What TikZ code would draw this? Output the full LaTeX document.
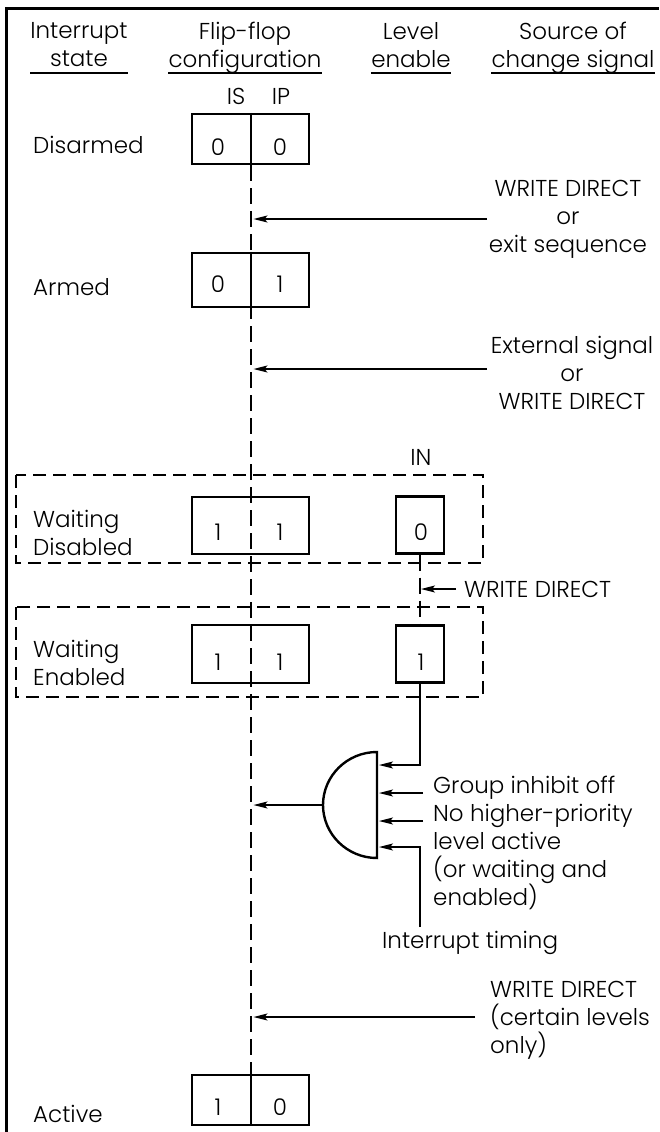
\documentclass[tikz,border=0pt]{standalone}
\usepackage{fontspec}
\setmainfont{Poppins}[UprightFont={* Light}]
\usepackage{tikz}
\usetikzlibrary{arrows.meta}

\begin{document}
\begin{tikzpicture}[x=1pt, y=-1pt, font=\fontsize{23}{28}\selectfont,
  ffbox/.style={draw, line width=2.4pt, minimum width=117pt, minimum height=50pt, inner sep=0pt},
  inbox/.style={draw, line width=2.4pt, minimum width=48pt, minimum height=57pt, inner sep=0pt},
  ffline/.style={line width=2pt},
  bit/.style={anchor=base, inner sep=0pt},
  statelbl/.style={anchor=base west, inner sep=0pt},
  head/.style={anchor=north, align=center, inner sep=0pt},
  uline/.style={line width=1.6pt},
  src/.style={inner sep=0pt},
  sig/.style={line width=1.4pt, -{Stealth[length=14pt, width=7pt, inset=3pt]}},
  flow/.style={line width=2pt, dash pattern=on 16pt off 7pt},
  grp/.style={line width=1.6pt, dash pattern=on 13pt off 7pt}]
\useasboundingbox (0,0) rectangle (659,1132);
\begin{scope}
% frame
\draw[line width=3pt] (6,1132) -- (6,9) -- (659,9);

% column heads
\node[head, minimum width=94pt] (hd-state) at (79,22) {Interrupt\\state};
\node[head, minimum width=147pt] (hd-conf) at (245,22) {Flip-flop\\configuration};
\node[head, minimum width=80pt] (hd-level) at (411,22) {Level\\enable};
\node[head, minimum width=163pt] (hd-src) at (573,22) {Source of\\change signal};
\coordinate (ul) at (0,73);
\foreach \h in {hd-state,hd-conf,hd-level,hd-src}
  \draw[uline] (\h.west |- ul) -- (\h.east |- ul);

% flip-flops
\node[bit] (lb-is) at (236,104) {IS};
\node[bit] (lb-ip) at (281,104) {IP};
\node[ffbox] (ff-dis) at (250.5,139) {};
\node[ffbox, minimum height=54pt] (ff-arm) at (250.5,280) {};
\node[ffbox, minimum height=57pt] (ff-wd) at (250.5,525.5) {};
\node[ffbox, minimum height=58pt] (ff-we) at (250.5,654) {};
\node[ffbox] (ff-act) at (250.5,1100) {};
\draw[flow] (ff-dis.south) -- (ff-act.north);
\foreach \b in {ff-dis,ff-arm,ff-act}
  \draw[ffline] (\b.north) -- (\b.south);

\node[bit] (dis-is) at (218,155) {0};
\node[bit] (dis-ip) at (280,155) {0};
\node[bit] (arm-is) at (218,292) {0};
\node[bit] (arm-ip) at (280,292) {1};
\node[bit] (wd-is) at (218,540) {1};
\node[bit] (wd-ip) at (280,540) {1};
\node[bit] (we-is) at (218,670) {1};
\node[bit] (we-ip) at (280,670) {1};
\node[bit] (act-is) at (218,1115) {1};
\node[bit] (act-ip) at (280,1115) {0};

% level enable
\node[bit] (lb-in) at (421,465) {IN};
\node[inbox] (in-dis) at (420,525) {};
\node[inbox] (in-en) at (420,654) {};
\node[bit] (in-dis-v) at (421,540) {0};
\node[bit] (in-en-v) at (421,670) {1};
\draw[flow] (in-dis.south) -- (in-en.north);

% states
\node[statelbl] (st-dis) at (33,153) {Disarmed};
\node[statelbl] (st-arm) at (33,295) {Armed};
\node[statelbl, align=left, anchor=north west] (st-wd) at (33,510) {Waiting\\Disabled};
\node[statelbl, align=left, anchor=north west] (st-we) at (33,640) {Waiting\\Enabled};
\node[statelbl] (st-act) at (33,1122) {Active};
\draw[grp] (16,475) rectangle (483,563);
\draw[grp] (16,607) rectangle (483,697);

% sources
\node[src, align=center, anchor=north] (src-exit) at (568,180) {WRITE DIRECT\\or\\exit sequence};
\node[src, align=center, anchor=north] (src-ext) at (572,336) {External signal\\or\\WRITE DIRECT};
\node[src, anchor=base west] (src-wd) at (464,597) {WRITE DIRECT};
\node[src, align=left, anchor=north west] (src-gate) at (433,776) {Group inhibit off\\No higher-priority\\level active\\(or waiting and\\enabled)};
\node[src, anchor=base west] (src-tm) at (382,948) {Interrupt timing};
\node[src, align=left, anchor=north west] (src-cert) at (490,981) {WRITE DIRECT\\(certain levels\\only)};

\coordinate (exit-in) at (487,219);
\coordinate (ext-in) at (487,369);
\coordinate (wd-in) at (456,589);
\coordinate (cert-in) at (475,1017);
\draw[sig, shorten >=3pt] (exit-in) -- (exit-in -| ff-dis.south);
\draw[sig, shorten >=3pt] (ext-in) -- (ext-in -| ff-dis.south);
\draw[sig, shorten >=1pt] (wd-in) -- (wd-in -| in-dis.south);
\draw[sig, shorten >=3pt] (cert-in) -- (cert-in -| ff-dis.south);

% gate
\coordinate (g-top) at (377,752);
\coordinate (g-bot) at (377,858);
\coordinate (g-out) at (323,805);
\draw[line width=2.4pt] (g-top) .. controls (347,752) and (323,776) .. (g-out)
  .. controls (323,834) and (347,858) .. (g-bot) -- cycle;
\coordinate (g-in1) at (379,765);
\coordinate (g-in2) at (379,793);
\coordinate (g-in3) at (379,821);
\coordinate (g-in4) at (379,847);
\coordinate (tm-foot) at (420,927);
\draw[sig] (in-en.south) |- (g-in1);
\draw[sig] (423,793) -- (g-in2);
\draw[sig] (423,821) -- (g-in3);
\draw[sig] (tm-foot) |- (g-in4);
\draw[sig, shorten >=3pt] (g-out) -- (g-out -| ff-dis.south);
\end{scope}
\end{tikzpicture}
\end{document}
